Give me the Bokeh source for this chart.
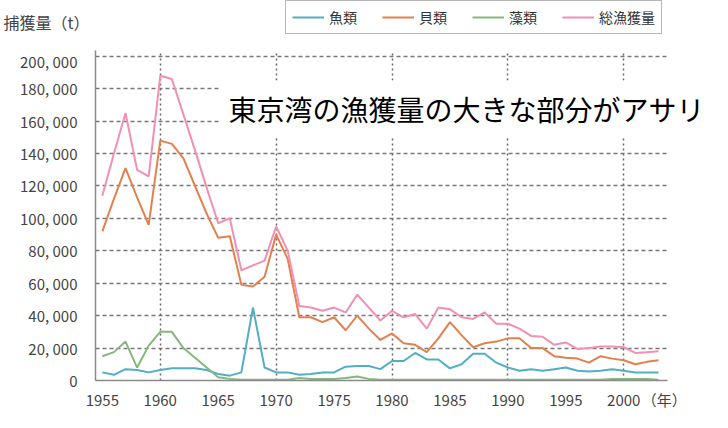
from bokeh.plotting import figure
from bokeh.layouts import column
from bokeh.models import Range1d, FixedTicker, Label, Legend, LegendItem, BoxAnnotation
from bokeh.embed import file_html
from bokeh.resources import INLINE

years = list(range(1955, 2004))
fish = [5, 3.5, 7, 6.5, 5, 6.5, 7.5, 7.5, 7.5, 6.5,
        4, 3, 5, 45, 8, 5, 5, 3.5, 4, 5,
        5, 8.5, 9, 9, 7, 12, 12, 17, 13, 13,
        7.5, 10, 16.5, 16.5, 11, 8, 6, 7, 6, 7,
        8, 6, 5.5, 6, 7, 6, 5, 5, 5]
shell = [92, 112, 131, 113, 96, 148, 146, 137, 120, 103,
         88, 89, 59, 58, 64, 90, 75, 39, 39, 36,
         39, 31, 40, 32, 25, 29, 23, 22, 17.5, 26,
         36, 28, 20.5, 23, 24, 26, 26, 20, 20, 15,
         14, 13.5, 11, 15, 13.5, 12.5, 10, 11.5, 12.5]
seaweed = [15, 17.5, 24, 8, 21.5, 30, 30, 20, 14, 8,
           2, 1, 0.5, 0.5, 0.5, 0.5, 0.5, 1.5, 1, 1,
           1, 1.5, 2.5, 1, 0.5, 0.5, 0.5, 0.5, 0.5, 0.5,
           0.5, 0.5, 0.5, 0.5, 0.5, 0.5, 0.5, 0.5, 0.5, 0.5,
           0.5, 0.5, 0.5, 0.5, 1, 1, 1, 1, 0.5]
total = [114, 140, 165, 130, 126, 188, 186, 164, 142, 119,
         97, 100, 68, 71, 74, 95, 80, 46, 45, 43,
         45, 42, 53, 45, 37, 43, 39, 41, 32, 45,
         44, 39, 38, 42, 35, 35, 32, 27.5, 27, 22,
         23.5, 19.5, 20, 21, 21, 20.5, 17, 17.5, 18]

series_names = ["魚類", "貝類", "藻類", "総漁獲量"]
series_colors = ["#52aec4", "#e3804e", "#86b77e", "#f28fb3"]

y_ticks = [0, 20000, 40000, 60000, 80000, 100000, 120000, 140000, 160000, 180000, 200000]
y_tick_labels = ["0", "20, 000", "40, 000", "60, 000", "80, 000", "100, 000",
                 "120, 000", "140, 000", "160, 000", "180, 000", "200, 000"]
x_ticks = [1955, 1960, 1965, 1970, 1975, 1980, 1985, 1990, 1995, 2000]
x_grid_years = [1960, 1970, 1980, 1990, 2000]

y_title = "捕獲量（t）"
x_unit = "（年）"
x_unit_pos = 2003.5
note = "東京湾の漁獲量の大きな部分がアサリ"

X_START, X_AXIS_END, X_END = 1954.41, 2003.78, 2007.66
Y_END = 203593
FONT = "Noto Sans CJK JP"
W, TOP_H, MAIN_H = 712, 50, 362
series = [fish, shell, seaweed, total]

# ---------- header strip: axis title + legend ----------
top = figure(width=W, height=TOP_H, output_backend="svg", toolbar_location=None,
             x_range=Range1d(0, W), y_range=Range1d(0, TOP_H),
             x_axis_type=None, min_border=0,
             outline_line_color=None, background_fill_color="white",
             border_fill_color="white")
top.grid.visible = False
# the series drawn here fall outside this strip's range; they only feed the legend
keys = [top.line(years, [v * 1000 for v in vals], line_color=c, line_width=2)
        for vals, c in zip(series, series_colors)]
title_pos = 29
top.yaxis.ticker = FixedTicker(ticks=[title_pos])
top.yaxis.major_label_overrides = {title_pos: y_title}
top.yaxis.axis_line_color = None
top.yaxis.major_tick_line_color = None
top.yaxis.minor_tick_line_color = None
top.yaxis.major_label_standoff = 0
top.yaxis.major_label_text_font = FONT
top.yaxis.major_label_text_font_size = "16px"
top.yaxis.major_label_text_color = "#444444"

legend = Legend(items=[LegendItem(label=n, renderers=[r]) for n, r in zip(series_names, keys)],
                orientation="horizontal", location=(190, 16),
                border_line_color="#707070", border_line_width=1.5,
                background_fill_color="white", background_fill_alpha=1,
                label_text_font=FONT, label_text_font_size="14px",
                label_text_color="#333333", glyph_width=32, glyph_height=14,
                label_height=14, label_standoff=5, spacing=25, padding=6, margin=0)
top.add_layout(legend, "center")

# ---------- main chart ----------
p = figure(width=W, height=MAIN_H, output_backend="svg", toolbar_location=None,
           x_range=Range1d(X_START, X_END), y_range=Range1d(0, Y_END),
           min_border_left=93, min_border_right=0, min_border_top=0,
           min_border_bottom=22, outline_line_color=None,
           background_fill_color="white", border_fill_color="white")

for vals, col in zip(series, series_colors):
    p.line(years, [v * 1000 for v in vals], line_color=col, line_width=2)

p.yaxis.ticker = FixedTicker(ticks=y_ticks)
p.yaxis.major_label_overrides = {t: s for t, s in zip(y_ticks, y_tick_labels)}
p.xaxis.ticker = FixedTicker(ticks=x_ticks + [x_unit_pos])
p.xaxis.major_label_overrides = {x_unit_pos: x_unit}
p.xaxis.bounds = (X_START, X_AXIS_END)
for ax in (p.xaxis[0], p.yaxis[0]):
    ax.axis_line_color = "#8a8a8a"
    ax.axis_line_width = 1.5
    ax.major_tick_line_color = None
    ax.minor_tick_line_color = None
    ax.major_label_text_font = FONT
    ax.major_label_text_color = "#444444"
    ax.major_label_text_font_size = "15px"
p.yaxis.major_label_standoff = 12
p.xaxis.major_label_standoff = 2

p.ygrid.ticker = FixedTicker(ticks=y_ticks[1:])
p.ygrid.grid_line_color = "#777777"
p.ygrid.grid_line_dash = "4 3"
p.ygrid.grid_line_width = 1.5
p.xgrid.ticker = FixedTicker(ticks=x_grid_years)
p.xgrid.grid_line_color = "#666666"
p.xgrid.grid_line_dash = "2 3"
p.xgrid.grid_line_width = 1.5

# blank strip to the right of the plotting area (the note runs over it)
p.add_layout(BoxAnnotation(left=X_AXIS_END + 0.05, fill_color="white", fill_alpha=1,
                           line_color=None))

p.add_layout(Label(x=220, y=58, x_units="canvas", y_units="canvas", text=note,
                   text_baseline="middle", text_font=FONT, text_font_size="28px",
                   text_color="black", background_fill_color="white",
                   background_fill_alpha=1, padding=8))

open("out.html", "w").write(file_html(column(top, p, spacing=0), INLINE))
